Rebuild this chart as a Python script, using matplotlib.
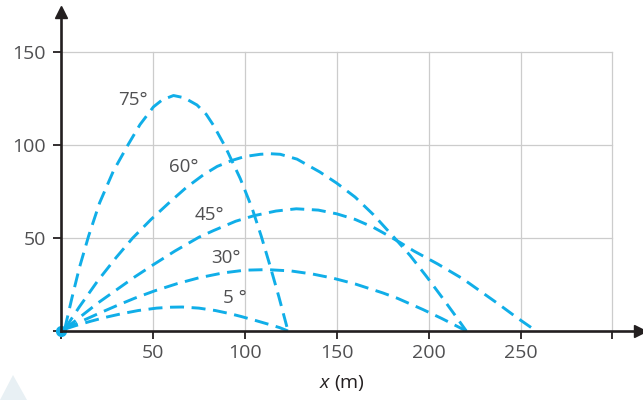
import matplotlib.pyplot as plt
from matplotlib.patches import Polygon

plt.rcParams['font.family'] = ['Open Sans', 'DejaVu Sans']
plt.rcParams['mathtext.fontset'] = 'custom'
plt.rcParams['mathtext.it'] = 'Open Sans:italic'
plt.rcParams['mathtext.rm'] = 'Open Sans'

# trajectories (x in m, height in m)
x75 = [2, 6, 10, 15, 21, 28.5, 36.7, 43, 50.3, 55, 61.2, 67, 74, 79, 83, 89.4, 97.5, 103.9, 109, 113.6, 118.5, 123.5]
y75 = [1, 18, 34, 51, 68.9, 86, 100.5, 111, 120.5, 124.2, 126.6, 125.4, 121.5, 116.5, 110.5, 99, 82, 66.2, 50.8, 35.5, 18.5, 0]

x60 = [2, 10, 20, 30, 39, 49, 59.4, 68, 77.5, 85, 93, 100, 108.4, 114, 119.3, 128.4, 140.8, 150, 160, 170, 182.4, 190, 198.7, 207, 214, 220.5]
y60 = [1, 13, 27, 39.5, 50, 60, 69.5, 77, 84, 88.5, 91.7, 93.8, 95, 95.3, 95, 92.4, 85.5, 79.5, 72, 62.5, 49, 40.5, 29.5, 18.5, 9, 0]

x45 = [2, 11, 20, 30, 40, 50, 62, 75, 83, 95, 105, 117, 128, 140, 150, 160, 170, 178, 184.6, 192, 205, 218.7, 228, 238, 248, 258.5]
y45 = [1, 8, 15, 22, 29, 35.5, 43, 50.4, 54, 59, 62, 64.5, 65.7, 65, 63, 60, 55.7, 51.3, 47.5, 43, 36, 28, 21.5, 14.5, 7.2, 0]

x30 = [2, 11, 20, 30, 40, 51, 63, 75, 88, 100, 112, 125, 137, 148, 160, 175, 183, 197, 207, 214, 220.5]
y30 = [1, 5.2, 9.2, 13.5, 17.6, 21.6, 25.4, 28.6, 31.2, 32.7, 33, 32.3, 30.6, 28.4, 25.3, 20.5, 17.6, 11.5, 6.8, 3.3, 0]

x15 = [2, 8, 16, 24, 33, 42, 52, 60, 66, 75, 84, 92, 98, 106, 113, 119, 123.5]
y15 = [1, 2.9, 5.2, 7.3, 9.3, 11, 12.3, 12.8, 12.9, 12.3, 11, 9.3, 7.8, 5.6, 3.6, 1.8, 0]

curves = [(x75, y75), (x60, y60), (x45, y45), (x30, y30), (x15, y15)]
angle_labels = ['75°', '60°', '45°', '30°', '5 °']
label_pos = [(39, 124), (67, 88), (81, 62.5), (90, 39.5), (94.5, 18)]

xticks = [0, 50, 100, 150, 200, 250, 300]
xticklabels = ['', '50', '100', '150', '200', '250', '']
yticks = [0, 50, 100, 150]
yticklabels = ['', '50', '100', '150']

blue = '#10aee8'
axis_col = '#231f20'
text_col = '#505052'

W, H = 643, 400
fig = plt.figure(figsize=(W / 100, H / 100), dpi=100)
ax = fig.add_axes([61 / W, 69 / H, 579 / W, 319 / H])
ax.set_xlim(0, 315)
ax.set_ylim(0, 171.5)

# grid only up to 300 / 150
for gx in xticks[1:]:
    ax.plot([gx, gx], [0, 150], color='#cccccc', lw=0.9, zorder=1)
for gy in yticks[1:]:
    ax.plot([0, 300], [gy, gy], color='#cccccc', lw=0.9, zorder=1)

for cx, cy in curves:
    ax.plot(cx, cy, color=blue, lw=2.1, linestyle=(0, (4.8, 2.6)),
            dash_capstyle='butt', dash_joinstyle='round', zorder=3)

ax.plot([0], [0], 'o', color=blue, ms=7, clip_on=False, zorder=2)

for lab, (tx, ty) in zip(angle_labels, label_pos):
    ax.text(tx, ty, lab, fontsize=13.5, color=text_col, ha='center', va='center')

for side in ['top', 'right']:
    ax.spines[side].set_visible(False)
for side in ['left', 'bottom']:
    ax.spines[side].set_color(axis_col)
    ax.spines[side].set_linewidth(1.9)
    ax.spines[side].set_zorder(4)

ax.plot(1, 0, '>', color=axis_col, ms=9, transform=ax.transAxes, clip_on=False, zorder=5)
ax.plot(0, 1, '^', color=axis_col, ms=9, transform=ax.transAxes, clip_on=False, zorder=5)

ax.set_xticks(xticks)
ax.set_xticklabels(xticklabels)
ax.set_yticks(yticks)
ax.set_yticklabels(yticklabels)
ax.tick_params(direction='out', length=5.8, width=1.3, color=axis_col,
               labelsize=14, labelcolor=text_col)
ax.tick_params(axis='x', pad=3.5)
ax.tick_params(axis='y', pad=5)

fig.text(342 / W, 1 - 383 / H, '$x$ (m)', fontsize=14, color=axis_col,
         ha='center', va='center')

# pale decorative triangle in the corner
fig.patches.append(Polygon([(0, 0), (27 / W, 0), (13 / W, 25 / H)], closed=True,
                           transform=fig.transFigure, facecolor='#e8f0f4',
                           edgecolor='none', zorder=0))

fig.savefig('out.png', dpi=100)
